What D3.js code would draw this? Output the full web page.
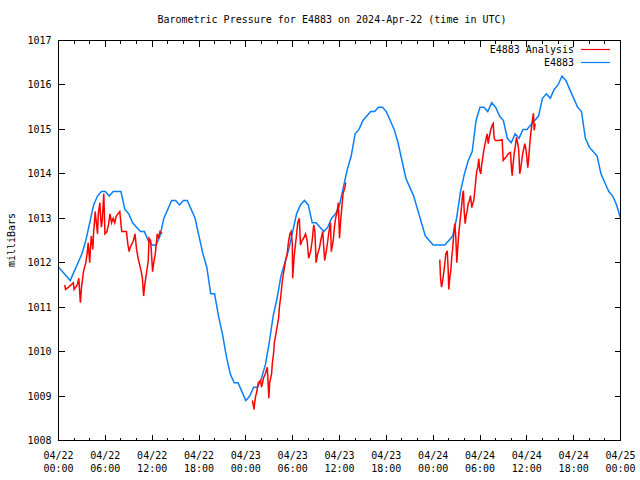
<!DOCTYPE html>
<html>
<head>
<meta charset="utf-8">
<script src="https://cdn.jsdelivr.net/npm/d3@7"></script>
<style>
  html, body { margin: 0; padding: 0; background: #fff; }
  svg { display: block; }
  text { font-family: "DejaVu Sans Mono", "Liberation Mono", monospace; font-size: 10px; fill: #000; }
</style>
</head>
<body>
<svg id="chart" width="640" height="480"></svg>
<script>
// ---------------- DATA ----------------
const titleText = "Barometric Pressure for E4883 on 2024-Apr-22 (time in UTC)";
const yLabel = "milliBars";
const seriesNames = ["E4883 Analysis", "E4883"];
const startTime = "2024-04-22T00:00:00Z";
const endTime = "2024-04-25T00:00:00Z";
const yTicks = [1008, 1009, 1010, 1011, 1012, 1013, 1014, 1015, 1016, 1017];

// E4883 observed (hours since 04/22 00:00 UTC)
const obsHours = [
  0.0, 0.5, 1.0, 1.5, 2.0, 2.5, 3.0, 3.5, 4.0, 4.5, 5.0, 5.5, 6.0, 6.5, 7.0, 7.5, 8.0, 8.5, 9.0, 9.5,
  10.0, 10.5, 11.0, 11.5, 12.0, 12.5, 13.0, 13.5, 14.0, 14.5, 15.0, 15.5, 16.0, 16.5, 17.0, 17.5, 18.0, 18.5, 19.0, 19.5,
  20.0, 20.5, 21.0, 21.5, 22.0, 22.5, 23.0, 23.5, 24.0, 24.5, 25.0, 25.5, 26.0, 26.5, 27.0, 27.5, 28.0, 28.5, 29.0, 29.5,
  30.0, 30.5, 31.0, 31.5, 32.0, 32.5, 33.0, 33.5, 34.0, 34.5, 35.0, 35.5, 36.0, 36.5, 37.0, 37.5, 38.0, 38.5, 39.0, 39.5,
  40.0, 40.5, 41.0, 41.5, 42.0, 42.5, 43.0, 43.5, 44.0, 44.5, 45.0, 45.5, 46.0, 46.5, 47.0, 47.5, 48.0, 48.5, 49.0, 49.5,
  50.0, 50.5, 51.0, 51.5, 52.0, 52.5, 53.0, 53.5, 54.0, 54.5, 55.0, 55.5, 56.0, 56.5, 57.0, 57.5, 58.0, 58.5, 59.0, 59.5,
  60.0, 60.5, 61.0, 61.5, 62.0, 62.5, 63.0, 63.5, 64.0, 64.5, 65.0, 65.5, 66.0, 66.5, 67.0, 67.5, 68.0, 68.5, 69.0, 69.5,
  70.0, 70.5, 71.0, 71.5, 72.0
];
const obsPressure = [
  1011.9, 1011.8, 1011.7, 1011.6, 1011.8, 1012.0, 1012.2, 1012.5, 1012.9, 1013.3, 1013.5, 1013.6, 1013.6, 1013.5, 1013.6, 1013.6, 1013.6, 1013.2, 1013.1, 1012.9,
  1012.8, 1012.7, 1012.7, 1012.5, 1012.4, 1012.4, 1012.6, 1013.0, 1013.2, 1013.4, 1013.4, 1013.3, 1013.4, 1013.4, 1013.2, 1013.0, 1012.6, 1012.2, 1011.9, 1011.3,
  1011.3, 1010.8, 1010.4, 1009.9, 1009.5, 1009.3, 1009.3, 1009.1, 1008.9, 1009.0, 1009.2, 1009.2, 1009.4, 1009.7, 1010.2, 1010.8, 1011.2, 1011.7, 1012.0, 1012.3,
  1012.7, 1013.1, 1013.3, 1013.4, 1013.3, 1012.9, 1012.9, 1012.8, 1012.7, 1012.8, 1013.0, 1013.1, 1013.3, 1013.7, 1014.1, 1014.4, 1014.9, 1015.0, 1015.2, 1015.3,
  1015.4, 1015.4, 1015.5, 1015.5, 1015.4, 1015.2, 1015.0, 1014.7, 1014.3, 1013.9, 1013.7, 1013.5, 1013.2, 1012.9, 1012.6, 1012.5, 1012.4, 1012.4, 1012.4, 1012.4,
  1012.5, 1012.6, 1013.0, 1013.6, 1014.0, 1014.3, 1014.5, 1015.2, 1015.5, 1015.5, 1015.4, 1015.6, 1015.5, 1015.3, 1015.2, 1014.8, 1014.7, 1014.9, 1014.8, 1015.0,
  1015.0, 1015.1, 1015.2, 1015.3, 1015.7, 1015.8, 1015.7, 1015.9, 1016.0, 1016.2, 1016.1, 1015.9, 1015.7, 1015.5, 1015.4, 1014.8, 1014.6, 1014.5, 1014.4, 1014.0,
  1013.8, 1013.6, 1013.5, 1013.3, 1013.0
];

// E4883 Analysis (null = gap between analysis windows)
const anaHours = [
  0.8, 0.9, 1.3, 1.9, 2.0, 2.4, 2.6, 2.8, 2.95, 3.2, 3.5, 3.7, 3.8, 4.0, 4.1, 4.2, 4.4, 4.5, 4.6, 4.7,
  5.0, 5.1, 5.3, 5.4, 5.5, 5.6, 5.8, 5.95, 6.2, 6.4, 6.6, 6.8, 7.0, 7.2, 7.4, 7.85, 8.1, 8.5, 8.7, 8.9,
  9.05, 9.2, 9.6, 9.8, 10.0, 10.2, 10.4, 10.6, 10.75, 10.9, 11.05, 11.3, 11.5, 11.6, 11.8, 11.9, 12.05, 12.2, 12.4, 12.65,
  12.8, 13.0, 13.25,
  null,
  24.85, 25.05, 25.1, 25.25, 25.35, 25.5, 25.6, 25.9, 26.0, 26.15, 26.25, 26.5, 26.75, 26.95, 27.05, 27.3, 27.4, 27.55, 27.65, 27.8,
  27.95, 28.2, 28.3, 28.45, 28.65, 28.85, 29.1, 29.3, 29.45, 29.65, 29.8, 29.95, 30.0, 30.15, 30.25, 30.45, 30.65, 30.85, 31.0, 31.2,
  31.4, 31.65, 31.85, 32.05, 32.3, 32.5, 32.7, 32.85, 33.0, 33.2, 33.45, 33.65, 33.85, 34.1, 34.3, 34.5, 34.65, 34.85, 34.95, 35.2,
  35.35, 35.5, 35.7, 35.85, 36.0, 36.15, 36.3, 36.45, 36.7, 36.8,
  null,
  48.85, 48.94, 49.07, 49.23, 49.36, 49.49, 49.62, 49.8, 49.92, 50.0, 50.13, 50.26, 50.38, 50.51, 50.64, 50.77, 50.9, 51.03, 51.15, 51.28,
  51.41, 51.54, 51.67, 51.79, 51.88, 51.97, 52.1, 52.23, 52.36, 52.49, 52.65, 52.78, 52.95, 53.07, 53.2, 53.33, 53.46, 53.59, 53.72, 53.84,
  53.97, 54.1, 54.23, 54.36, 54.48, 54.66, 54.79, 54.92, 55.05, 55.18, 55.3, 55.43, 55.56, 55.69, 55.82, 55.98, 56.41, 56.84, 56.97, 57.14,
  57.39, 57.69, 57.9, 58.03, 58.12, 58.25, 58.38, 58.54, 58.67, 58.84, 58.97, 59.09, 59.22, 59.35, 59.48, 59.61, 59.74, 59.87, 60.0, 60.12,
  60.25, 60.38, 60.5, 60.63, 60.76, 60.85, 60.94, 61.07
];
const anaPressure = [
  1011.5, 1011.4, 1011.45, 1011.55, 1011.4, 1011.5, 1011.65, 1011.1, 1011.45, 1011.8, 1012.0, 1012.25, 1012.45, 1012.0, 1012.35, 1012.6, 1012.3, 1012.7, 1012.9, 1013.15,
  1012.65, 1013.1, 1013.35, 1013.0, 1012.8, 1012.95, 1013.55, 1012.65, 1012.7, 1012.85, 1013.1, 1012.9, 1013.0, 1012.9, 1013.05, 1013.15, 1012.7, 1012.7, 1012.7, 1012.4,
  1012.25, 1012.35, 1012.5, 1012.65, 1012.3, 1012.1, 1011.95, 1011.8, 1011.65, 1011.25, 1011.5, 1011.8, 1012.05, 1012.55, 1012.5, 1012.25, 1011.8, 1012.0, 1012.2, 1012.65,
  1012.55, 1012.7, 1012.65,
  null,
  1008.9, 1008.7, 1008.8, 1009.0, 1009.05, 1009.2, 1009.3, 1009.35, 1009.2, 1009.3, 1009.4, 1009.5, 1009.65, 1008.95, 1009.3, 1009.5, 1009.75, 1009.95, 1010.2, 1010.35,
  1010.5, 1010.75, 1011.0, 1011.2, 1011.55, 1011.8, 1012.05, 1012.2, 1012.45, 1012.65, 1012.7, 1012.45, 1011.65, 1012.05, 1012.25, 1012.55, 1012.9, 1013.0, 1012.4, 1012.5,
  1012.55, 1012.65, 1012.5, 1012.1, 1012.25, 1012.5, 1012.85, 1012.7, 1012.0, 1012.2, 1012.35, 1012.55, 1012.7, 1012.05, 1012.25, 1012.5, 1012.7, 1012.9, 1012.25, 1012.5,
  1012.8, 1013.0, 1013.15, 1013.35, 1012.55, 1012.95, 1013.25, 1013.55, 1013.7, 1013.8,
  null,
  1012.07, 1011.67, 1011.45, 1011.6, 1011.79, 1011.98, 1012.2, 1012.27, 1011.87, 1011.4, 1011.67, 1011.82, 1012.12, 1012.34, 1012.66, 1012.88, 1012.57, 1012.0, 1012.34, 1012.66,
  1012.88, 1013.1, 1013.33, 1013.56, 1013.62, 1013.17, 1012.88, 1013.06, 1013.17, 1013.33, 1013.4, 1013.51, 1013.24, 1013.33, 1013.4, 1013.62, 1013.85, 1014.07, 1014.14, 1014.34,
  1014.07, 1014.0, 1014.23, 1014.37, 1014.52, 1014.68, 1014.8, 1014.9, 1014.68, 1014.82, 1014.93, 1015.02, 1015.09, 1015.13, 1014.8, 1014.75, 1014.75, 1014.77, 1014.3, 1014.34,
  1014.39, 1014.46, 1014.48, 1014.14, 1013.96, 1014.23, 1014.46, 1014.64, 1014.82, 1014.68, 1014.52, 1014.0, 1014.12, 1014.3, 1014.46, 1014.57, 1014.68, 1014.57, 1014.37, 1014.14,
  1014.37, 1014.68, 1014.9, 1015.09, 1015.27, 1015.36, 1014.98, 1015.13
];

// ---------------- CHART ----------------
const svg = d3.select("#chart");
const pL = 58.5, pR = 620.5, pT = 40.5, pB = 440.5;
const t0 = new Date(startTime), t1 = new Date(endTime);
const toDate = h => new Date(t0.getTime() + h * 3600e3);

const x = d3.scaleUtc().domain([t0, t1]).range([pL, pR]);
const y = d3.scaleLinear().domain([1008, 1017]).range([pB, pT]);

const obs = obsHours.map((h, i) => ({ t: toDate(h), p: obsPressure[i] }));
const ana = anaHours.map((h, i) => ({ t: h == null ? null : toDate(h), p: anaPressure[i] }));

const majorX = d3.utcHour.every(6).range(t0, new Date(t1.getTime() + 1));
const minorX = d3.utcHour.every(2).range(t0, new Date(t1.getTime() + 1));

const g = svg.append("g");
const px = v => Math.round(v - 0.5) + 0.5;

const minorLen = 3, majorLen = 6;
function vTicks(data, y0, len) {
  g.append("g").selectAll("line").data(data).join("line")
    .attr("x1", d => px(x(d))).attr("x2", d => px(x(d)))
    .attr("y1", y0).attr("y2", y0 + len).attr("stroke", "#000").attr("shape-rendering", "crispEdges");
}
vTicks(minorX, pB, -minorLen);
vTicks(minorX, pT, minorLen);
vTicks(majorX, pB, -majorLen);
vTicks(majorX, pT, majorLen);
function hTicks(x0, len) {
  g.append("g").selectAll("line").data(yTicks).join("line")
    .attr("x1", x0).attr("x2", x0 + len)
    .attr("y1", d => px(y(d))).attr("y2", d => px(y(d)))
    .attr("stroke", "#000").attr("shape-rendering", "crispEdges");
}
hTicks(pL, majorLen);
hTicks(pR, -majorLen);

// y tick labels
g.append("g").selectAll("text").data(yTicks).join("text")
  .attr("x", pL - 7).attr("y", d => y(d)).attr("dy", "0.35em")
  .attr("text-anchor", "end").text(d => d);

// x tick labels (two lines)
const fmtDate = d3.utcFormat("%m/%d"), fmtTime = d3.utcFormat("%H:%M");
const xl = g.append("g").selectAll("text").data(majorX).join("text")
  .attr("text-anchor", "middle");
xl.append("tspan").attr("x", d => x(d)).attr("y", 459).text(d => fmtDate(d));
xl.append("tspan").attr("x", d => x(d)).attr("y", 472).text(d => fmtTime(d));

// title
svg.append("text").attr("x", 332).attr("y", 23).attr("text-anchor", "middle").text(titleText);

// y axis label
svg.append("text").attr("transform", "translate(15,240) rotate(-90)")
  .attr("text-anchor", "middle").text(yLabel);

// clip
svg.append("clipPath").attr("id", "plotclip").append("rect")
  .attr("x", pL).attr("y", pT).attr("width", pR - pL).attr("height", pB - pT);

const obsLine = d3.line().x(d => x(d.t)).y(d => y(d.p));
const anaLine = d3.line().defined(d => d.t != null && d.p != null).x(d => x(d.t)).y(d => y(d.p));

svg.append("path").datum(obs).attr("clip-path", "url(#plotclip)")
  .attr("fill", "none").attr("stroke", "#0a7ff5").attr("stroke-width", 1.5).attr("d", obsLine);
svg.append("path").datum(ana).attr("clip-path", "url(#plotclip)")
  .attr("fill", "none").attr("stroke", "#ff0000").attr("stroke-width", 1.5).attr("d", anaLine);

// frame
svg.append("rect").attr("x", pL).attr("y", pT).attr("width", pR - pL).attr("height", pB - pT)
  .attr("fill", "none").attr("stroke", "#000").attr("shape-rendering", "crispEdges");

// legend
const legendColors = ["#ff0000", "#0a7ff5"];
const lg = svg.append("g").selectAll("g").data(seriesNames).join("g")
  .attr("transform", (d, i) => `translate(0,${49.5 + i * 13})`);
lg.append("text").attr("x", 574).attr("y", 0).attr("dy", "0.35em").attr("text-anchor", "end").text(d => d);
lg.append("line").attr("x1", 581).attr("x2", 610).attr("y1", 0).attr("y2", 0)
  .attr("stroke", (d, i) => legendColors[i]).attr("stroke-width", 1.2);
</script>
</body>
</html>
